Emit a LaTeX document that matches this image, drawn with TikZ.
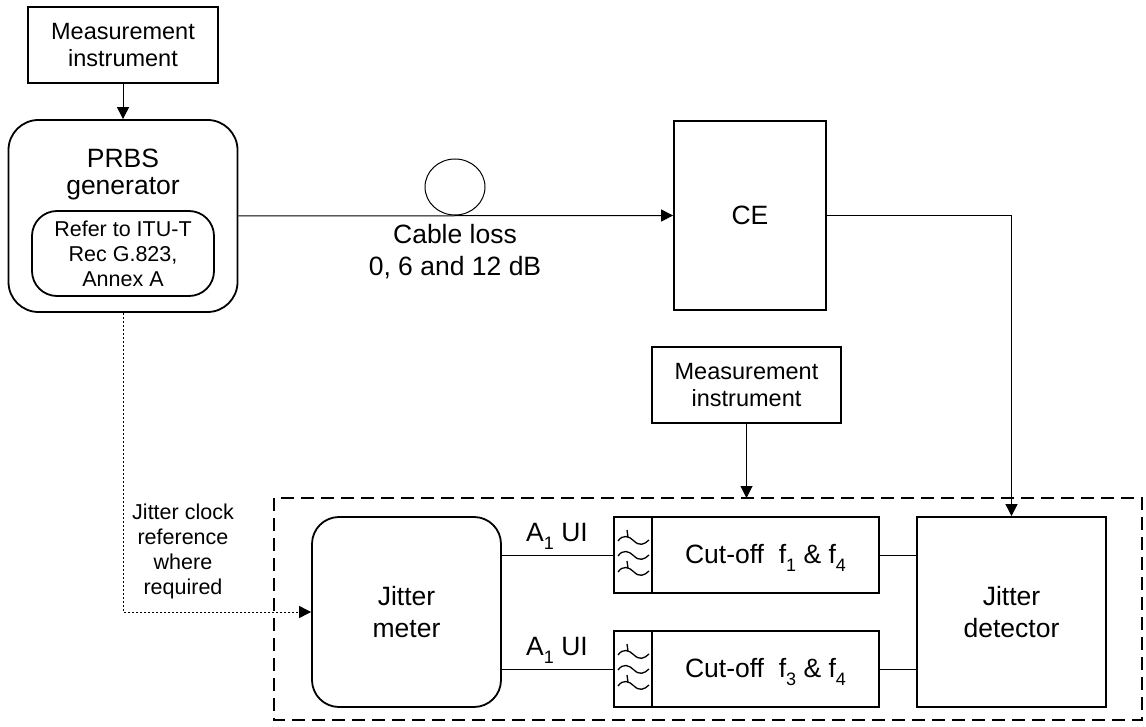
\documentclass[tikz,border=0pt]{standalone}
\usepackage{fontspec}
\setmainfont{Liberation Sans}
\usetikzlibrary{arrows.meta,shapes.geometric}
\newcommand{\mysub}[1]{\raisebox{-8.5pt}{\fontsize{18}{18}\selectfont #1}}
\begin{document}
\begin{tikzpicture}[x=1pt,y=-1pt,
  blk/.style={draw,line width=1.8pt,inner sep=0pt,align=center},
  rbox/.style={blk,rounded corners=#1},
  conn/.style={line width=1pt},
  arr/.style={conn,-{Triangle[length=12pt,width=12pt]}},
  dotline/.style={line width=1pt,dash pattern=on 2pt off 2pt},
  frameline/.style={line width=1.8pt,dash pattern=on 13pt off 7pt},
  big/.style={font=\fontsize{26.5}{32}\selectfont},
  bigt/.style={font=\fontsize{26.5}{27}\selectfont},
  mid/.style={font=\fontsize{23.5}{27}\selectfont},
  small/.style={font=\fontsize{21.5}{25}\selectfont},
  txt/.style={inner sep=0pt,align=center},
  wave/.style={line width=1.3pt}]
\useasboundingbox (0,0) rectangle (1146,727);

% top-left measurement instrument
\node[blk,mid,minimum width=190pt,minimum height=76pt] (mi1) at (123,45) {Measurement\\instrument};
% PRBS generator
\node[rbox=30pt,minimum width=229pt,minimum height=192pt] (prbs) at (123,216) {};
\node[txt,bigt] (prbst) at (123,174) {PRBS\\generator};
\node[rbox=25pt,small,minimum width=182pt,minimum height=85pt] (itu) at (123,253.5) {Refer to ITU-T\\Rec G.823,\\Annex A};

% CE
\node[blk,big,minimum width=152pt,minimum height=189pt] (ce) at (750,215.5) {CE};
% cable loop
\node[ellipse,draw,line width=1pt,inner sep=0pt,minimum width=60pt,minimum height=56pt] (loop) at (455,187) {};
\node[txt,big] (cablet) at (455,252) {Cable loss\\0, 6 and 12 dB};

% middle measurement instrument
\node[blk,mid,minimum width=189pt,minimum height=76pt] (mi2) at (746.5,385) {Measurement\\instrument};

% dashed frame
\draw[frameline] (274,498) rectangle (1142,720);
\coordinate (ftop) at (746.5,498);

% jitter meter
\node[rbox=27pt,big,minimum width=189pt,minimum height=190pt] (jm) at (406.5,612) {Jitter\\meter};
% filters
\node[blk,minimum width=38pt,minimum height=76pt] (f1) at (633,555) {};
\node[blk,minimum width=227pt,minimum height=76pt] (c1) at (765.5,555) {};
\node[blk,minimum width=38pt,minimum height=76pt] (f2) at (633,669) {};
\node[blk,minimum width=227pt,minimum height=76pt] (c2) at (765.5,669) {};
\node[txt,big,anchor=base] (c1t) at (765.5,563) {Cut-off\ \ f\mysub{1} \& f\mysub{4}};
\node[txt,big,anchor=base] (c2t) at (765.5,677) {Cut-off\ \ f\mysub{3} \& f\mysub{4}};
% jitter detector
\node[blk,big,minimum width=189pt,minimum height=190pt] (det) at (1011.5,612) {Jitter\\detector};

% labels
\node[txt,big,anchor=base] (a1) at (557,541) {A\mysub{1} UI};
\node[txt,big,anchor=base] (a2) at (557,655) {A\mysub{1} UI};
\node[txt,small] (clk) at (183,551) {Jitter clock\\reference\\where\\required};

% filter symbols
\foreach \f in {f1,f2}{
  \begin{scope}[shift={(\f.center)}]
    \foreach \y in {-15,0,16}{
      \draw[wave] (-15,\y+1) .. controls (-10,\y-6) and (-4,\y-4) .. (1,\y+1)
        .. controls (6,\y+6) and (11,\y+5) .. (16,\y);
    }
    \draw[wave] (-6,-25) -- (-5,-18);
    \draw[wave] (-6,6) -- (-5,13);
  \end{scope}
}

% connectors
\draw[arr] (mi1.south) -- (prbs.north);
\draw[arr] (prbs.east) -- (ce.west);
\draw[arr] (ce.east) -| (det.north);
\draw[arr] (mi2.south) -- (ftop);
\draw[dotline,-{Triangle[length=12pt,width=12pt]}] (prbs.south) |- (jm.west);
\draw[conn] (f1.west -| jm.east) -- (f1.west);
\draw[conn] (f2.west -| jm.east) -- (f2.west);
\draw[conn] (c1.east) -- (c1.east -| det.west);
\draw[conn] (c2.east) -- (c2.east -| det.west);
\end{tikzpicture}
\end{document}
